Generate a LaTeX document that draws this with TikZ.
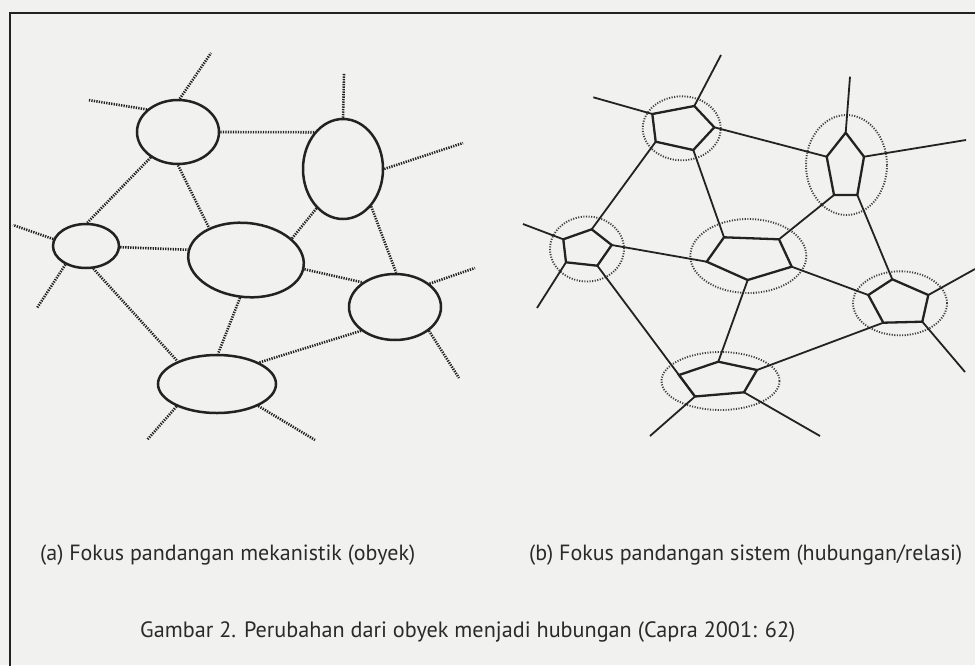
\documentclass[tikz,border=0pt]{standalone}
\usepackage{fontspec}
\setmainfont{PT Sans}
\usetikzlibrary{shapes.geometric}
\definecolor{bgc}{HTML}{F1F1EF}
\definecolor{ink}{HTML}{222222}
\definecolor{dotc}{HTML}{3E3E3E}
\definecolor{txt}{HTML}{2A2A2A}
\tikzset{
  obj/.style={ellipse, draw=ink, line width=2.5pt, inner sep=0pt},
  rel/.style={draw=ink, line width=2.6pt, dash pattern=on 1.3pt off 1.2pt},
  halo/.style={ellipse, draw=dotc, line width=1.9pt, dash pattern=on 1.1pt off 1.5pt, inner sep=0pt},
  pent/.style={draw=ink, line width=2.3pt, line join=miter},
  link/.style={draw=ink, line width=1.8pt},
  captext/.style={anchor=west, inner sep=0pt, text=txt}
}
\begin{document}
\begin{tikzpicture}[x=1pt,y=-1pt]
\useasboundingbox (0,0) rectangle (975,665);
\fill[bgc] (0,0) rectangle (975,665);
% frame
\draw[ink, line width=2pt] (9.5,670) -- (9.5,12.5) -- (980,12.5);

% ---------- (a) left diagram ----------
\node[obj, minimum width=82pt, minimum height=64pt] (o1) at (178,132) {};
\node[obj, minimum width=80pt, minimum height=100pt] (o2) at (343,169) {};
\node[obj, minimum width=66pt, minimum height=44pt] (o3) at (86,246) {};
\node[obj, minimum width=116pt, minimum height=74pt, rotate=-6] (o4) at (246,260) {};
\node[obj, minimum width=92pt, minimum height=66pt] (o5) at (395,307) {};
\node[obj, minimum width=118pt, minimum height=58pt] (o6) at (217,384) {};

\coordinate (s1) at (88,100);
\coordinate (s2) at (211,53);
\coordinate (s3) at (344,73);
\coordinate (s4) at (463,143);
\coordinate (s5) at (13,225);
\coordinate (s6) at (37,308);
\coordinate (s7) at (475,268);
\coordinate (s8) at (459,378);
\coordinate (s9) at (147,440);
\coordinate (s10) at (315,440);

\draw[rel] (o1.144) -- (s1);
\draw[rel] (o1.87) -- (s2);
\draw[rel] (o1.0) -- (o2.128);
\draw[rel] (o1.223) -- (o3.87);
\draw[rel] (o1.270) -- (o4.145);
\draw[rel] (o2.90) -- (s3);
\draw[rel] (o2.0) -- (s4);
\draw[rel] (o2.236) -- (o4.31);
\draw[rel] (o2.307) -- (o5.88);
\draw[rel] (o3.168) -- (s5);
\draw[rel] (o3.222) -- (s6);
\draw[rel] (o3.358) -- (o4.176);
\draw[rel] (o3.288) -- (o6.150);
\draw[rel] (o4.357) -- (o5.143);
\draw[rel] (o4.267) -- (o6.88);
\draw[rel] (o5.34) -- (s7);
\draw[rel] (o5.325) -- (s8);
\draw[rel] (o5.215) -- (o6.27);
\draw[rel] (o6.209) -- (s9);
\draw[rel] (o6.332) -- (s10);

% ---------- (b) right diagram ----------
\node[halo, minimum width=78pt, minimum height=64pt] (h1) at (681.7,128.3) {};
\node[halo, minimum width=81pt, minimum height=100pt] (h2) at (846.5,165) {};
\node[halo, minimum width=74pt, minimum height=65pt] (h3) at (587,249) {};
\node[halo, minimum width=116pt, minimum height=74pt] (h4) at (748.3,256) {};
\node[halo, minimum width=94pt, minimum height=64pt] (h5) at (900,303.3) {};
\node[halo, minimum width=118pt, minimum height=58pt] (h6) at (720.5,381) {};

% pentagon vertices
\coordinate (q1a) at (652.3,114);
\coordinate (q1b) at (694.3,106);
\coordinate (q1c) at (714.3,127.3);
\coordinate (q1d) at (693.3,150);
\coordinate (q1e) at (655.7,141.7);

\coordinate (q2a) at (845.7,132.7);
\coordinate (q2b) at (864,156.7);
\coordinate (q2c) at (857.3,195);
\coordinate (q2d) at (834,195);
\coordinate (q2e) at (826.7,156.7);

\coordinate (q3a) at (591.7,229.3);
\coordinate (q3b) at (611.7,245);
\coordinate (q3c) at (597.3,265.7);
\coordinate (q3d) at (566,262.3);
\coordinate (q3e) at (563.3,239.3);

\coordinate (q4a) at (724,237.3);
\coordinate (q4b) at (779,239.3);
\coordinate (q4c) at (791.7,266.7);
\coordinate (q4d) at (747.7,280);
\coordinate (q4e) at (706.7,261.7);

\coordinate (q5a) at (892.3,279.3);
\coordinate (q5b) at (928.3,295);
\coordinate (q5c) at (922.3,321.7);
\coordinate (q5d) at (883.3,322.7);
\coordinate (q5e) at (868.3,295);

\coordinate (q6a) at (718.3,361.7);
\coordinate (q6b) at (757,370);
\coordinate (q6c) at (744,392.3);
\coordinate (q6d) at (695,396.5);
\coordinate (q6e) at (679,375);

% free stub ends
\coordinate (t1a) at (593.3,97.3);
\coordinate (t1b) at (721,55);
\coordinate (t2a) at (850,76.7);
\coordinate (t2b) at (966,140);
\coordinate (t3e) at (523,224);
\coordinate (t3d) at (537,308);
\coordinate (t5b) at (975,269);
\coordinate (t5c) at (965,372);
\coordinate (t6d) at (650,436);
\coordinate (t6c) at (820,436);

% pentagons
\draw[pent] (q1a) -- (q1b) -- (q1c) -- (q1d) -- (q1e) -- cycle;
\draw[pent] (q2a) -- (q2b) -- (q2c) -- (q2d) -- (q2e) -- cycle;
\draw[pent] (q3a) -- (q3b) -- (q3c) -- (q3d) -- (q3e) -- cycle;
\draw[pent] (q4a) -- (q4b) -- (q4c) -- (q4d) -- (q4e) -- cycle;
\draw[pent] (q5a) -- (q5b) -- (q5c) -- (q5d) -- (q5e) -- cycle;
\draw[pent] (q6a) -- (q6b) -- (q6c) -- (q6d) -- (q6e) -- cycle;

% links between pentagons
\draw[link] (q1c) -- (q2e);
\draw[link] (q1e) -- (q3a);
\draw[link] (q1d) -- (q4a);
\draw[link] (q2d) -- (q4b);
\draw[link] (q2c) -- (q5a);
\draw[link] (q3b) -- (q4e);
\draw[link] (q3c) -- (q6d);
\draw[link] (q4c) -- (q5e);
\draw[link] (q4d) -- (q6a);
\draw[link] (q5d) -- (q6b);

% stubs
\draw[link] (q1a) -- (t1a);
\draw[link] (q1b) -- (t1b);
\draw[link] (q2a) -- (t2a);
\draw[link] (q2b) -- (t2b);
\draw[link] (q3e) -- (t3e);
\draw[link] (q3d) -- (t3d);
\draw[link] (q5b) -- (t5b);
\draw[link] (q5c) -- (t5c);
\draw[link] (q6d) -- (t6d);
\draw[link] (q6c) -- (t6c);

% ---------- captions ----------
\node[captext] (ta) at (40,555) {\resizebox{375pt}{!}{(a) Fokus pandangan mekanistik (obyek)}};
\node[captext] (tb) at (529,555) {\resizebox{433pt}{!}{(b) Fokus pandangan sistem (hubungan/relasi)}};
\node[captext] (tc) at (140,632) {\resizebox{655pt}{!}{Gambar 2. Perubahan dari obyek menjadi hubungan (Capra 2001: 62)}};
\end{tikzpicture}
\end{document}
